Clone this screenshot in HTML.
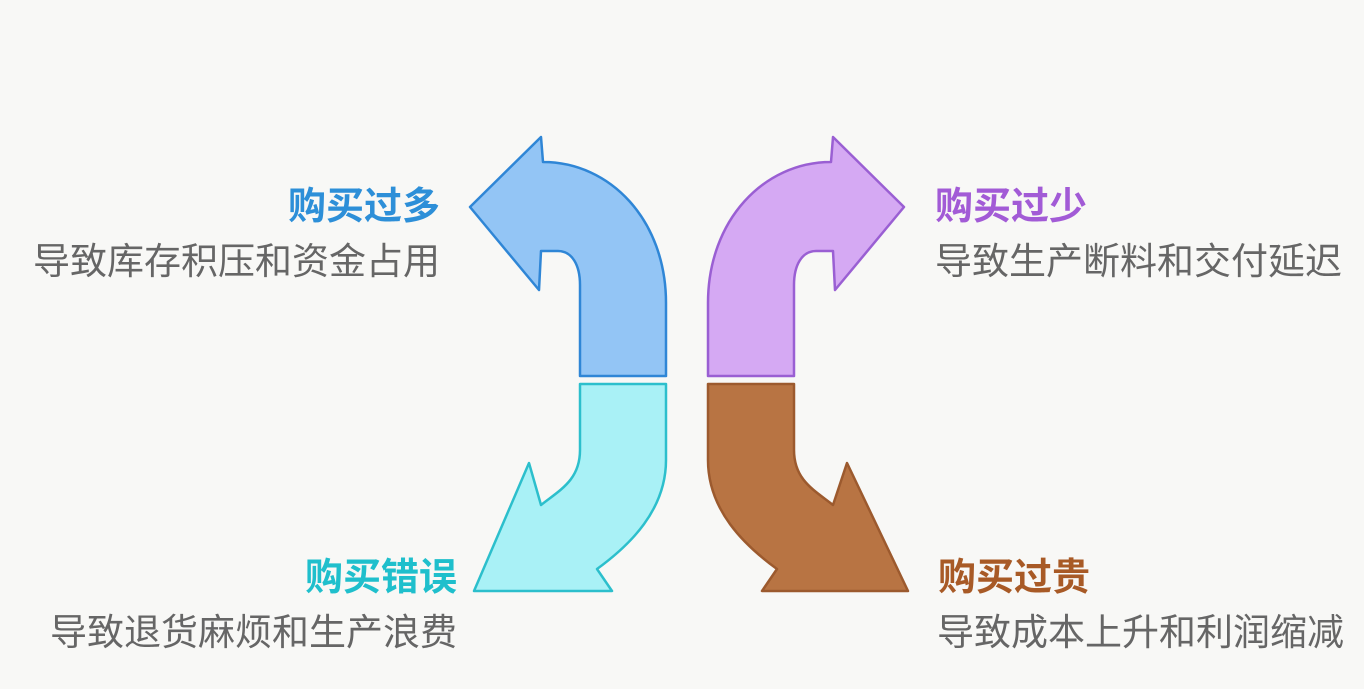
<!DOCTYPE html>
<html><head><meta charset="utf-8"><style>
html,body{margin:0;padding:0;background:#f8f8f6;}
#c{position:relative;width:1364px;height:689px;overflow:hidden;font-family:"Liberation Sans","Noto Sans CJK SC",sans-serif;}
.t{position:absolute;font-size:38px;font-weight:bold;line-height:1;white-space:nowrap;}
.s{position:absolute;font-size:37px;color:#666;line-height:1;white-space:nowrap;}
.r{text-align:right;}
</style></head><body><div id="c">
<svg width="1364" height="689" style="position:absolute;left:0;top:0">
<g stroke-width="2.5" stroke-linejoin="round">
<path d="M580,376 L666,376 L666,303 C666,220 610,162 543,162 L541,137 L470,207 L539,290 L541,251 L558,251 C572,251 580,265 580,285 Z" fill="#93c5f5" stroke="#2f86d6"/>
<path d="M794,376 L708,376 L708,303 C708,220 764,162 831,162 L833,137 L904,207 L835,290 L833,251 L816,251 C802,251 794,265 794,285 Z" fill="#d5a9f3" stroke="#9a5fd3"/>
<path d="M580,384 L666,384 L666,460 C666,510 630,545 597,569 L612,591 L474,591 L529,463 L541,505 C560,490 580,480 580,450 Z" fill="#a9f1f6" stroke="#2cbfcc"/>
<path d="M794,384 L708,384 L708,460 C708,510 744,545 777,569 L762,591 L908,591 L847,463 L833,505 C814,490 794,480 794,450 Z" fill="#b87443" stroke="#9c5a2e"/>
</g></svg>
<div class="t r" style="right:924px;top:188px;color:#2d8fd8">购买过多</div>
<div class="s r" style="right:924px;top:243px">导致库存积压和资金占用</div>
<div class="t" style="left:935px;top:188px;color:#a25bd6">购买过少</div>
<div class="s" style="left:935px;top:243px">导致生产断料和交付延迟</div>
<div class="t r" style="right:907px;top:559px;color:#1fbfcc">购买错误</div>
<div class="s r" style="right:907px;top:614px">导致退货麻烦和生产浪费</div>
<div class="t" style="left:938px;top:559px;color:#a85a26">购买过贵</div>
<div class="s" style="left:937px;top:614px">导致成本上升和利润缩减</div>
</div></body></html>
